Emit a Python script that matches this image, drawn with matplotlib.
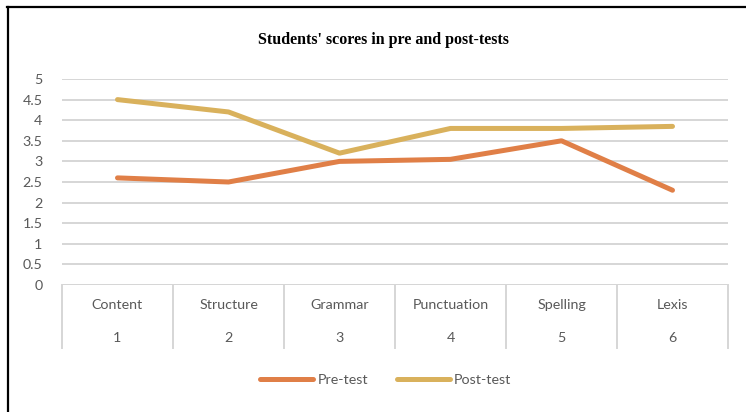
import matplotlib.pyplot as plt
from matplotlib.lines import Line2D
import matplotlib.transforms as mtransforms

# scores per writing category
categories = ['Content', 'Structure', 'Grammar', 'Punctuation', 'Spelling', 'Lexis']
positions = [1, 2, 3, 4, 5, 6]
pre_test = [2.6, 2.5, 3.0, 3.05, 3.5, 2.3]
post_test = [4.5, 4.2, 3.2, 3.8, 3.8, 3.85]
yticks = [0, 0.5, 1, 1.5, 2, 2.5, 3, 3.5, 4, 4.5, 5]

pre_color = '#E07F47'
post_color = '#D9B15C'
grid_color = '#D6D6D6'
text_color = '#595959'
label_font = 'Lato'
fs = 10.3

W, H = 746, 412
fig = plt.figure(figsize=(W / 100, H / 100), dpi=100)
ax = fig.add_axes([62 / W, 1 - 285 / H, (728 - 62) / W, (285 - 79) / H])

ax.plot(positions, pre_test, color=pre_color, lw=3.6, solid_capstyle='round',
        solid_joinstyle='round', label='Pre-test', zorder=3)
ax.plot(positions, post_test, color=post_color, lw=3.6, solid_capstyle='round',
        solid_joinstyle='round', label='Post-test', zorder=3)

ax.set_xlim(0.5, 6.5)
ax.set_ylim(0, 5)
ax.set_yticks(yticks)
ax.set_yticklabels([f'{v:g}' for v in yticks], fontsize=fs, color=text_color,
                   family=label_font)
ax.tick_params(axis='y', length=0, pad=14)
ax.set_xticks([])
ax.yaxis.grid(True, color=grid_color, lw=1.4)
ax.set_axisbelow(True)
for s in ax.spines.values():
    s.set_visible(False)

# category table under the axis
trans = mtransforms.blended_transform_factory(ax.transData, ax.transAxes)
ax.axhline(0, color=grid_color, lw=1.4, zorder=1)
bottom = -63 / 206
for b in [0.5, 1.5, 2.5, 3.5, 4.5, 5.5, 6.5]:
    ax.plot([b, b], [0, bottom], color=grid_color, lw=1.4, transform=trans,
            clip_on=False)
for p, name in zip(positions, categories):
    ax.text(p, -20 / 206, name, transform=trans, ha='center', va='center',
            fontsize=fs, color=text_color, family=label_font)
    ax.text(p, -53 / 206, str(p), transform=trans, ha='center', va='center',
            fontsize=fs, color=text_color, family=label_font)

fig.text(383 / W, 1 - 40 / H, "Students' scores in pre and post-tests",
         ha='center', va='center', fontsize=11.5, fontweight='bold',
         family='Liberation Serif')

handles = [Line2D([], [], color=pre_color, lw=3.6, solid_capstyle='round'),
           Line2D([], [], color=post_color, lw=3.6, solid_capstyle='round')]
leg = fig.legend(handles, ['Pre-test', 'Post-test'], loc='center', ncol=2,
                 bbox_to_anchor=(386 / W, 1 - 380 / H), frameon=False,
                 handlelength=3.7, handletextpad=0.3, columnspacing=2.0,
                 prop={'family': label_font, 'size': fs})
for t in leg.get_texts():
    t.set_color(text_color)

# outer frame (top and left edges)
fig.add_artist(Line2D([7 / W, 1], [1 - 7 / H, 1 - 7 / H], color='black', lw=1.6))
fig.add_artist(Line2D([8 / W, 8 / W], [0, 1 - 7 / H], color='black', lw=1.6))

fig.savefig('out.png', dpi=100)
